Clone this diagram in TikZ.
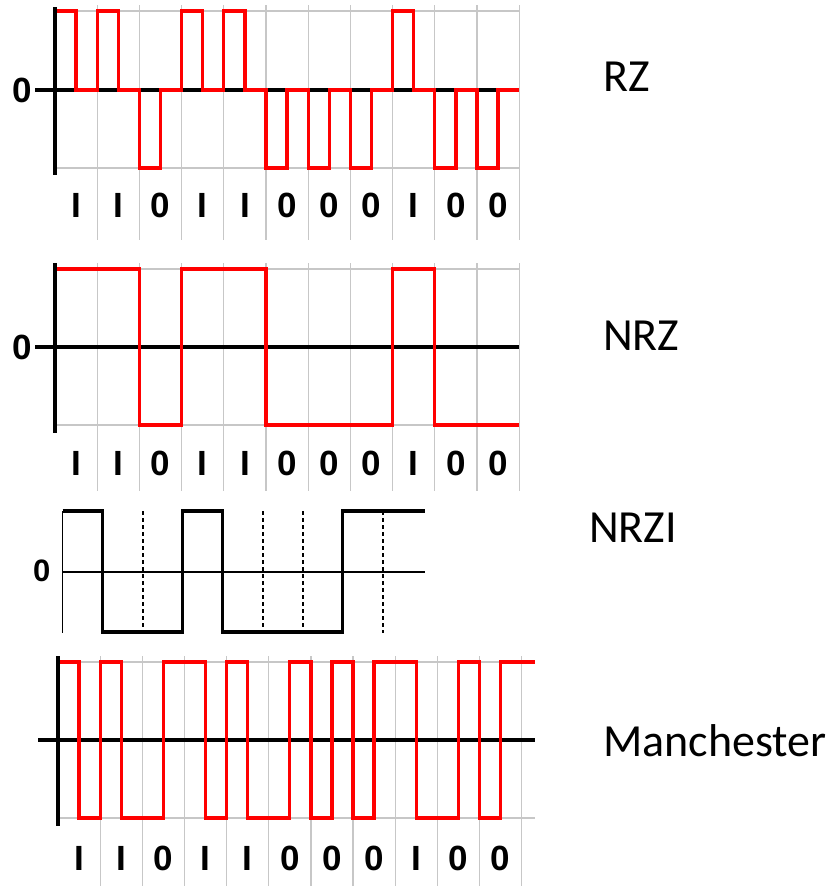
\documentclass[tikz,border=0pt]{standalone}
\usepackage{fontspec}
\setmainfont{Liberation Sans}
\newfontfamily\namefamily{Carlito}
\usepackage{tikz}
\usetikzlibrary{positioning}

\newcommand{\bitfont}{\fontsize{35}{40}\selectfont\bfseries}
\newcommand{\namefont}{\namefamily\fontsize{46}{52}\selectfont}

\begin{document}
\begin{tikzpicture}[x=1pt, y=-1pt,
    wave/.style={red, line width=3.3pt},
    axisline/.style={black, line width=3.1pt},
    thinline/.style={black, line width=1.6pt},
    gridline/.style={black!22, line width=1.3pt},
    bit/.style={font=\bitfont, inner sep=0pt},
    codename/.style={font=\namefont, anchor=west, inner sep=0pt},
]
    \useasboundingbox (0,0) rectangle (839,886);

    % RZ: pulse in the first half of each bit, back to zero after
    \begin{scope}[shift={(55,0)}, x=42.2pt]
        \foreach \k in {1,...,11} \draw[gridline] (\k,5) -- (\k,240);
        \draw[gridline] (0,11) -- (11,11) (0,168) -- (11,168);
        \draw[axisline] (-0.47,90) -- (11,90);
        \draw[wave] (0,11) -| (0.5,90) -| (1,11) -| (1.5,90) -| (2,168) -| (2.5,90)
            -| (3,11) -| (3.5,90) -| (4,11) -| (4.5,90) -| (5,168) -| (5.5,90)
            -| (6,168) -| (6.5,90) -| (7,168) -| (7.5,90) -| (8,11) -| (8.5,90)
            -| (9,168) -| (9.5,90) -| (10,168) -| (10.5,90) -- (11,90);
        \draw[axisline] (0,7) -- (0,175);
        \node[bit] (rz-zero) at (-0.78,90) {0};
        \foreach \b [count=\k] in {I,I,0,I,I,0,0,0,I,0,0}
            \node[bit] (rz-\k) at (\k-0.5,205) {\b};
    \end{scope}

    % NRZ: level held for the whole bit
    \begin{scope}[shift={(55,0)}, x=42.2pt]
        \foreach \k in {1,...,11} \draw[gridline] (\k,263) -- (\k,491);
        \draw[gridline] (0,269) -- (11,269) (0,425) -- (11,425);
        \draw[axisline] (-0.47,347) -- (11,347);
        \draw[wave] (0,269) -| (2,425) -| (3,269) -| (5,425) -| (8,269) -| (9,425) -- (11,425);
        \draw[axisline] (0,263) -- (0,433);
        \node[bit] (nrz-zero) at (-0.78,347) {0};
        \foreach \b [count=\k] in {I,I,0,I,I,0,0,0,I,0,0}
            \node[bit] (nrz-\k) at (\k-0.5,463) {\b};
    \end{scope}

    % NRZI
    \begin{scope}[shift={(62.5,0)}, x=40pt]
        \draw[thinline] (0,572) -- (9.06,572);
        \foreach \k in {2,5,6,8}
            \draw[black, line width=2pt, dash pattern=on 4pt off 3pt] (\k,511) -- (\k,633);
        \draw[black, line width=3.8pt] (0,511) -| (1,632) -| (3,511) -| (4,632) -| (7,511) -- (9.06,511);
        \draw[thinline] (0,511) -- (0,633);
        \node[bit, font=\fontsize{31}{36}\selectfont\bfseries] (nrzi-zero) at (-0.52,571) {0};
    \end{scope}

    % Manchester: transition in the middle of every bit
    \begin{scope}[shift={(58,0)}, x=42.15pt]
        \foreach \k in {1,...,11} \draw[gridline] (\k,656) -- (\k,886);
        \draw[gridline] (0,662) -- (11.32,662) (0,818) -- (11.32,818);
        \draw[axisline] (-0.47,740) -- (11.32,740);
        \draw[wave] (0,662) -| (0.5,818) -| (1,662) -| (1.5,818) -| (2.5,662) -| (3.5,818)
            -| (4,662) -| (4.5,818) -| (5.5,662) -| (6,818) -| (6.5,662) -| (7,818)
            -| (7.5,662) -| (8.5,818) -| (9.5,662) -| (10,818) -| (10.5,662) -- (11.32,662);
        \draw[axisline] (0,656) -- (0,826);
        \foreach \b [count=\k] in {I,I,0,I,I,0,0,0,I,0,0}
            \node[bit] (man-\k) at (\k-0.5,858) {\b};
    \end{scope}

    % Code names
    \node[codename] (rz-name) at (603,77) {RZ};
    \node[codename] (nrz-name) at (603,336) {NRZ};
    \node[codename] (nrzi-name) at (589,528) {NRZI};
    \node[codename] (man-name) at (603,741) {Manchester};
\end{tikzpicture}
\end{document}
